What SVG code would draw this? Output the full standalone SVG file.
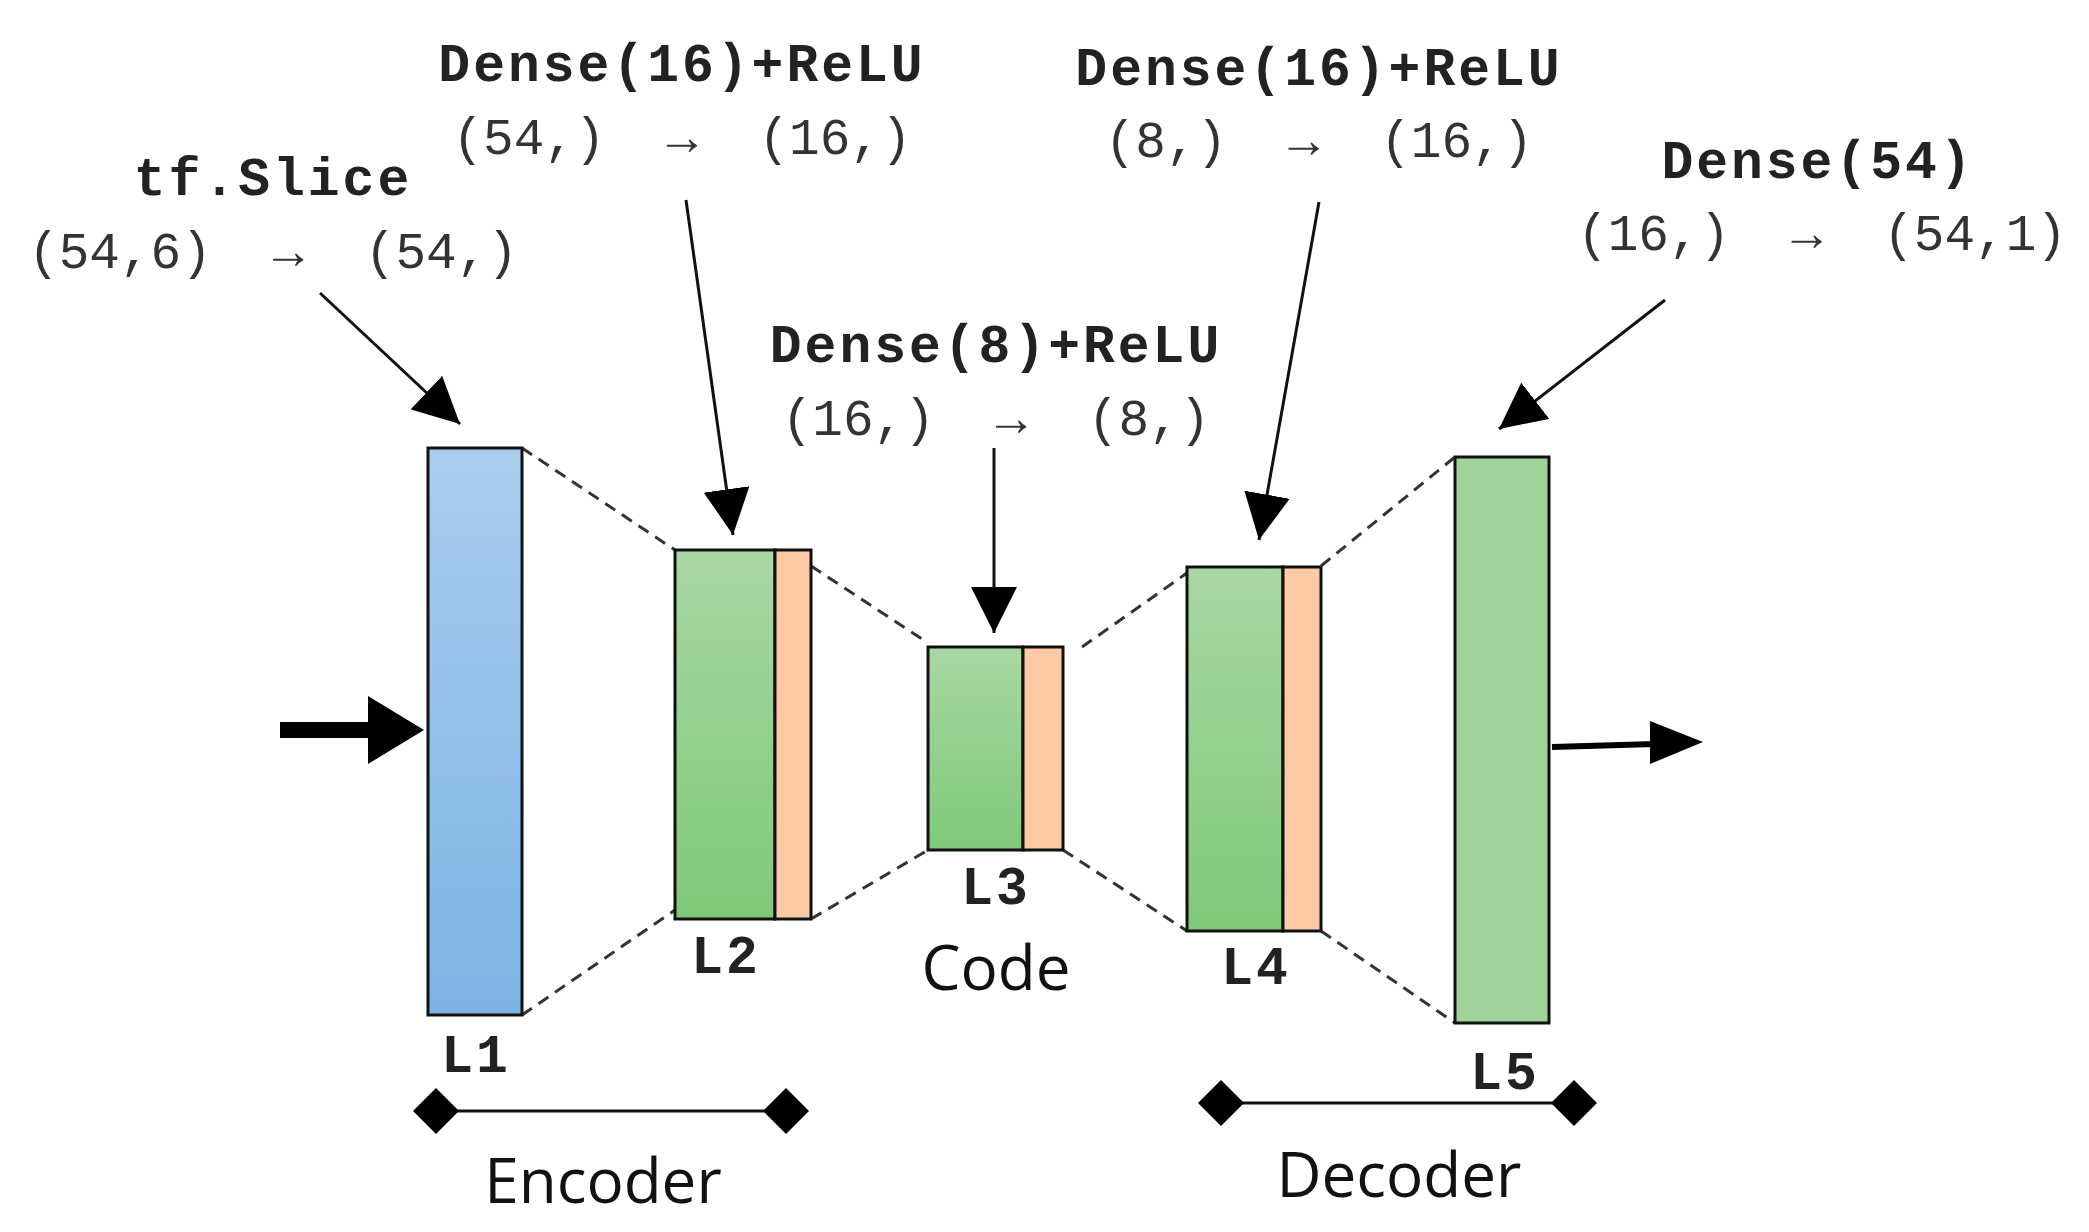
<svg xmlns="http://www.w3.org/2000/svg" width="2089" height="1232" viewBox="0 0 2089 1232">
<defs>
<linearGradient id="gb" x1="0" y1="0" x2="0" y2="1"><stop offset="0" stop-color="#a9cdee"/><stop offset="1" stop-color="#7db3e4"/></linearGradient>
<linearGradient id="gg" x1="0" y1="0" x2="0" y2="1"><stop offset="0" stop-color="#a8d8a2"/><stop offset="1" stop-color="#80c87a"/></linearGradient>
<marker id="ah" markerUnits="userSpaceOnUse" viewBox="0 0 40 40" markerWidth="46" markerHeight="46" refX="40" refY="20" orient="auto"><path d="M0,0 L40,20 L0,40 Z" fill="#000"/></marker>
</defs>
<style>
.b{font-family:"Liberation Mono","Courier New",monospace;font-weight:bold;font-size:53px;letter-spacing:3px;fill:#222;text-anchor:middle}
.m{font-family:"Liberation Mono","Courier New",monospace;font-size:51px;fill:#333;text-anchor:middle;white-space:pre}
.s{font-family:"Open Sans","Noto Sans",sans-serif;font-size:62px;fill:#111;text-anchor:middle}
.box{stroke:#111;stroke-width:3}
.d{stroke:#333;stroke-width:3;stroke-dasharray:12 8;fill:none}
.a{stroke:#111;stroke-width:3;fill:none;marker-end:url(#ah)}
</style>
<rect width="2089" height="1232" fill="#fff"/>
<g id="connectors">
<path class="d" d="M522,448 L675,550 M522,1015 L675,910 M811,566 L928,643 M811,919 L928,850 M1082,647 L1187,573 M1063,850 L1187,931 M1321,566 L1455,457 M1321,931 L1455,1023"/>
<line class="a" x1="320" y1="293" x2="460" y2="424"/>
<line class="a" x1="686" y1="200" x2="733" y2="535"/>
<line class="a" x1="994" y1="448" x2="994" y2="633"/>
<line class="a" x1="1319" y1="202" x2="1259" y2="540"/>
<line class="a" x1="1665" y1="300" x2="1499" y2="429"/>
<line x1="280" y1="730" x2="375" y2="730" stroke="#000" stroke-width="16"/>
<polygon points="368,696 424,730 368,764" fill="#000"/>
<line x1="1552" y1="747" x2="1655" y2="744" stroke="#000" stroke-width="6"/>
<polygon points="1650,721 1703,742 1650,764" fill="#000"/>
</g>
<g id="L1"><rect class="box" x="428" y="448" width="94" height="567" fill="url(#gb)"/><text class="b" x="476" y="1072">L1</text></g>
<g id="L2"><rect class="box" x="675" y="550" width="100" height="369" fill="url(#gg)"/><rect class="box" x="775" y="550" width="36" height="369" fill="#fdcaa6"/><text class="b" x="726" y="973">L2</text></g>
<g id="L3"><rect class="box" x="928" y="647" width="95" height="203" fill="url(#gg)"/><rect class="box" x="1023" y="647" width="40" height="203" fill="#fdcaa6"/><text class="b" x="996" y="904">L3</text><text class="s" x="996" y="990">Code</text></g>
<g id="L4"><rect class="box" x="1187" y="567" width="96" height="364" fill="url(#gg)"/><rect class="box" x="1283" y="567" width="38" height="364" fill="#fdcaa6"/><text class="b" x="1256" y="984">L4</text></g>
<g id="L5"><rect class="box" x="1455" y="457" width="94" height="566" fill="#9fd39a"/><text class="b" x="1505" y="1089">L5</text></g>
<g id="t1"><text class="b" x="273" y="195">tf.Slice</text><text class="m" x="273" y="268">(54,6)  →  (54,)</text></g>
<g id="t2"><text class="b" x="682" y="81">Dense(16)+ReLU</text><text class="m" x="682" y="154">(54,)  →  (16,)</text></g>
<g id="t3"><text class="b" x="996" y="362">Dense(8)+ReLU</text><text class="m" x="996" y="435">(16,)  →  (8,)</text></g>
<g id="t4"><text class="b" x="1319" y="85">Dense(16)+ReLU</text><text class="m" x="1319" y="157">(8,)  →  (16,)</text></g>
<g id="t5"><text class="b" x="1818" y="178">Dense(54)</text><text class="m" x="1822" y="250">(16,)  →  (54,1)</text></g>
<g id="encoder"><line x1="436" y1="1111" x2="786" y2="1111" stroke="#111" stroke-width="3"/><polygon points="413,1111 436,1088 459,1111 436,1134"/><polygon points="763,1111 786,1088 809,1111 786,1134"/><text class="s" x="603" y="1203">Encoder</text></g>
<g id="decoder"><line x1="1221" y1="1103" x2="1574" y2="1103" stroke="#111" stroke-width="3"/><polygon points="1198,1103 1221,1080 1244,1103 1221,1126"/><polygon points="1551,1103 1574,1080 1597,1103 1574,1126"/><text class="s" x="1399" y="1197">Decoder</text></g>
</svg>
